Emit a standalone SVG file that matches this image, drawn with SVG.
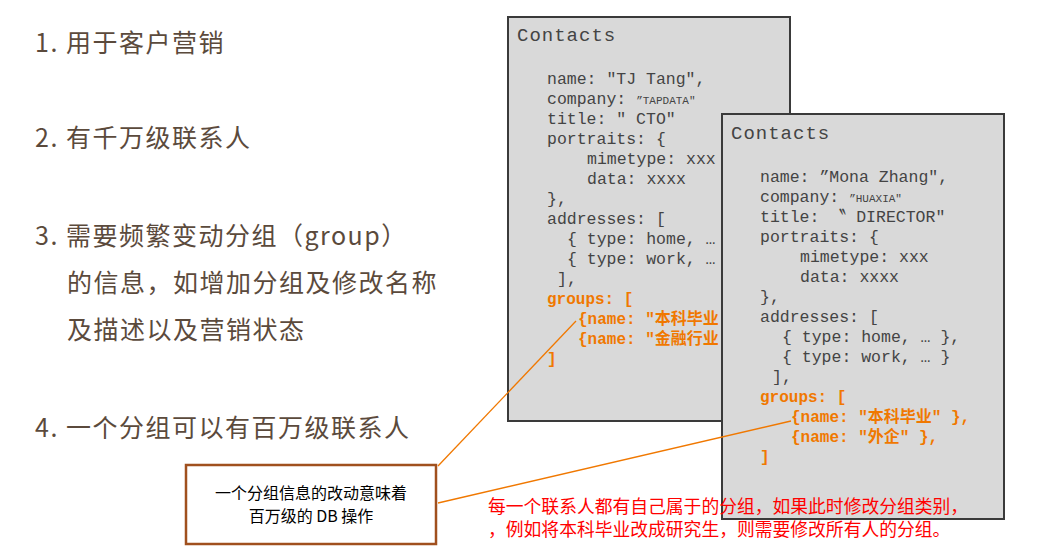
<svg xmlns="http://www.w3.org/2000/svg" width="1059" height="551" viewBox="0 0 1059 551">
<style>
.l{font-family:"Noto Sans CJK SC","Noto Sans",sans-serif;font-size:25px;letter-spacing:1.5px;fill:#5b4a3c}
.m{font-family:"Liberation Mono","DejaVu Sans Mono",monospace;font-size:16.5px;fill:#444}
.t{font-family:"Liberation Mono",monospace;font-size:19px;letter-spacing:1px;fill:#444}
.o{font-family:"Liberation Mono","Noto Sans CJK SC",monospace;font-size:16px;fill:#f07800;font-weight:bold}
.s{font-family:"Liberation Mono",monospace;font-size:11px;fill:#444}
.box{fill:#d9d9d9;stroke:#3a3a3a;stroke-width:2}
.r{font-family:"Noto Sans CJK SC",sans-serif;font-size:17.8px;fill:#f00}
</style>
<rect width="1059" height="551" fill="#fff"/>
<g id="left">
<text class="l" x="35" y="52">1. 用于客户营销</text>
<text class="l" x="35" y="147">2. 有千万级联系人</text>
<text class="l" x="35" y="245">3. 需要频繁变动分组（group）</text>
<text class="l" x="67" y="292">的信息，如增加分组及修改名称</text>
<text class="l" x="67" y="339">及描述以及营销状态</text>
<text class="l" x="35" y="437">4. 一个分组可以有百万级联系人</text>
</g>
<g id="contact1">
<rect class="box" x="508" y="17" width="282" height="404"/>
<text class="t" x="517" y="41">Contacts</text>
<text class="m" x="547" y="84">name: "TJ Tang",</text>
<text class="m" x="547" y="104">company: <tspan class="s">”TAPDATA"</tspan></text>
<text class="m" x="547" y="124">title: " CTO"</text>
<text class="m" x="547" y="144">portraits: {</text>
<text class="m" x="587" y="164">mimetype: xxx</text>
<text class="m" x="587" y="184">data: xxxx</text>
<text class="m" x="547" y="204">},</text>
<text class="m" x="547" y="224">addresses: [</text>
<text class="m" x="567" y="244">{ type: home, …</text>
<text class="m" x="567" y="264">{ type: work, …</text>
<text class="m" x="557" y="284">],</text>
<text class="o" x="547" y="304">groups: [</text>
<text class="o" x="578" y="324">{name:  ″本科毕业</text>
<text class="o" x="578" y="344">{name:  ″金融行业</text>
<text class="o" x="547" y="364">]</text>
</g>
<g id="contact2">
<rect class="box" x="722" y="114" width="282" height="405"/>
<text class="t" x="731" y="139">Contacts</text>
<text class="m" x="760" y="182">name: ”Mona Zhang",</text>
<text class="m" x="760" y="202">company: <tspan class="s">”HUAXIA"</tspan></text>
<text class="m" x="760" y="222">title: 〝 DIRECTOR"</text>
<text class="m" x="760" y="242">portraits: {</text>
<text class="m" x="800" y="262">mimetype: xxx</text>
<text class="m" x="800" y="282">data: xxxx</text>
<text class="m" x="760" y="302">},</text>
<text class="m" x="760" y="322">addresses: [</text>
<text class="m" x="782" y="342">{ type: home, … },</text>
<text class="m" x="782" y="362">{ type: work, … }</text>
<text class="m" x="772" y="382">],</text>
<text class="o" x="760" y="402">groups: [</text>
<text class="o" x="791" y="422">{name:  ″本科毕业″ },</text>
<text class="o" x="791" y="442">{name:  ″外企″ },</text>
<text class="o" x="760" y="462">]</text>
</g>
<g id="connectors" stroke="#f07800" stroke-width="1.3" fill="none">
<line x1="438" y1="466" x2="576" y2="321"/>
<line x1="438" y1="503" x2="791" y2="421"/>
</g>
<g id="callout">
<rect x="186" y="465" width="250" height="79" fill="#fff" stroke="#a0501e" stroke-width="2.5"/>
<text x="311" y="499" text-anchor="middle" font-family="Noto Sans CJK SC,sans-serif" font-size="16" fill="#000">一个分组信息的改动意味着</text>
<text x="311" y="522" text-anchor="middle" font-family="Noto Sans CJK SC,sans-serif" font-size="16" fill="#000">百万级的 DB 操作</text>
</g>
<g id="note">
<text class="r" x="488" y="513">每一个联系人都有自己属于的分组，如果此时修改分组类别，</text>
<text class="r" x="488" y="536">，例如将本科毕业改成研究生，则需要修改所有人的分组。</text>
</g>
</svg>
